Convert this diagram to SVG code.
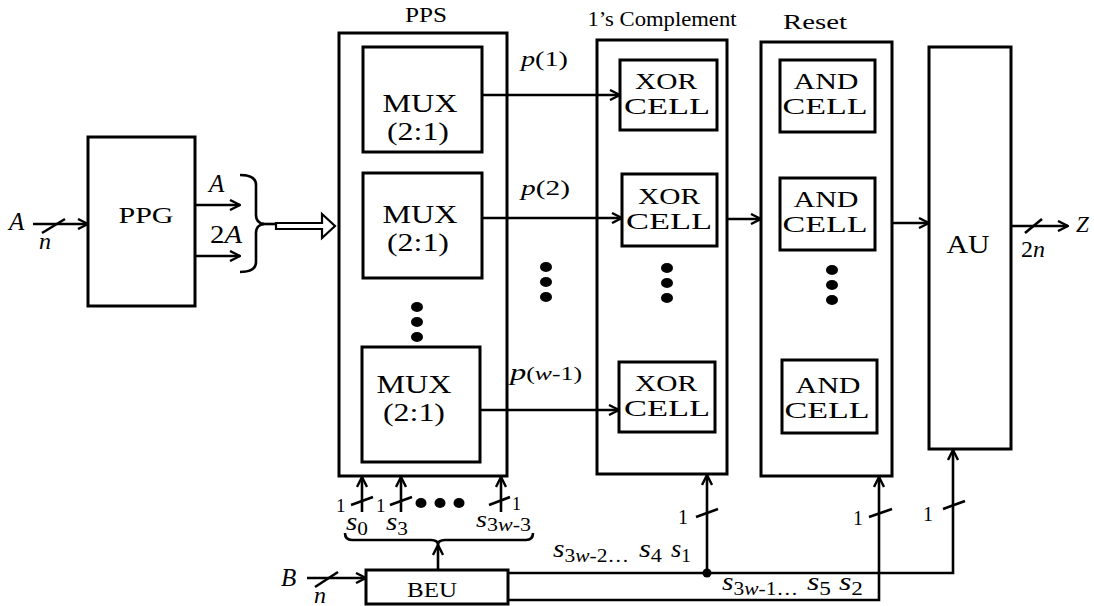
<svg xmlns="http://www.w3.org/2000/svg" width="1094" height="606" viewBox="0 0 1094 606">
<defs>
<style>
.box{fill:none;stroke:#000;stroke-width:3}
.ln{fill:none;stroke:#000;stroke-width:2.6}
.ar{fill:none;stroke:#000;stroke-width:2.6;marker-end:url(#arr)}
.t{font-family:"Liberation Serif","Times New Roman",serif;fill:#000}
.i{font-style:italic}
</style>
<marker id="arr" viewBox="0 0 12 12" refX="11" refY="6" markerWidth="12" markerHeight="12" markerUnits="userSpaceOnUse" orient="auto">
<path d="M1,1 L11,6 L1,11" fill="none" stroke="#000" stroke-width="2.4"/>
</marker>
</defs>
<rect width="1094" height="606" fill="#fff"/>

<g id="headers">
<text class="t" x="426" y="22" font-size="21" text-anchor="middle" textLength="42" lengthAdjust="spacingAndGlyphs">PPS</text>
<text class="t" x="662" y="26" font-size="21" text-anchor="middle" textLength="149" lengthAdjust="spacingAndGlyphs">1’s Complement</text>
<text class="t" x="815" y="29" font-size="20" text-anchor="middle" textLength="64" lengthAdjust="spacingAndGlyphs">Reset</text>
</g>

<g id="PPG">
<rect class="box" x="88" y="137" width="107" height="169"/>
<text class="t" x="146" y="223" font-size="24" text-anchor="middle" textLength="55" lengthAdjust="spacingAndGlyphs">PPG</text>
</g>

<g id="PPS">
<rect class="box" x="339" y="33" width="168" height="443"/>
<ellipse cx="417" cy="307" rx="6" ry="5"/>
<ellipse cx="417" cy="322" rx="6" ry="5"/>
<ellipse cx="417" cy="337" rx="6" ry="5"/>
</g>
<g id="MUX1">
<rect class="box" x="363" y="47" width="119" height="105"/>
<text class="t" x="420" y="112" font-size="25" text-anchor="middle" textLength="75" lengthAdjust="spacingAndGlyphs">MUX</text>
<text class="t" x="418" y="140" font-size="25" text-anchor="middle" textLength="62" lengthAdjust="spacingAndGlyphs">(2:1)</text>
</g>
<g id="MUX2">
<rect class="box" x="363" y="173" width="119" height="105"/>
<text class="t" x="420" y="223" font-size="25" text-anchor="middle" textLength="75" lengthAdjust="spacingAndGlyphs">MUX</text>
<text class="t" x="418" y="251" font-size="25" text-anchor="middle" textLength="62" lengthAdjust="spacingAndGlyphs">(2:1)</text>
</g>
<g id="MUX3">
<rect class="box" x="362" y="347" width="118" height="115"/>
<text class="t" x="414" y="393" font-size="25" text-anchor="middle" textLength="75" lengthAdjust="spacingAndGlyphs">MUX</text>
<text class="t" x="414" y="421" font-size="25" text-anchor="middle" textLength="62" lengthAdjust="spacingAndGlyphs">(2:1)</text>
</g>

<g id="OnesComplement">
<rect class="box" x="597" y="40" width="130" height="434"/>
<ellipse cx="667" cy="268" rx="6" ry="5"/>
<ellipse cx="667" cy="283" rx="6" ry="5"/>
<ellipse cx="667" cy="298" rx="6" ry="5"/>
</g>
<g id="XOR1">
<rect class="box" x="620" y="60" width="97" height="70"/>
<text class="t" x="666" y="89" font-size="23" text-anchor="middle" textLength="62" lengthAdjust="spacingAndGlyphs">XOR</text>
<text class="t" x="667" y="114" font-size="23" text-anchor="middle" textLength="86" lengthAdjust="spacingAndGlyphs">CELL</text>
</g>
<g id="XOR2">
<rect class="box" x="622" y="174" width="95" height="72"/>
<text class="t" x="669" y="204" font-size="23" text-anchor="middle" textLength="62" lengthAdjust="spacingAndGlyphs">XOR</text>
<text class="t" x="669" y="229" font-size="23" text-anchor="middle" textLength="86" lengthAdjust="spacingAndGlyphs">CELL</text>
</g>
<g id="XOR3">
<rect class="box" x="619" y="362" width="96" height="70"/>
<text class="t" x="666" y="391" font-size="23" text-anchor="middle" textLength="62" lengthAdjust="spacingAndGlyphs">XOR</text>
<text class="t" x="667" y="416" font-size="23" text-anchor="middle" textLength="86" lengthAdjust="spacingAndGlyphs">CELL</text>
</g>

<g id="Reset">
<rect class="box" x="761" y="42" width="131" height="434"/>
<ellipse cx="832" cy="270" rx="6" ry="5"/>
<ellipse cx="832" cy="285" rx="6" ry="5"/>
<ellipse cx="832" cy="300" rx="6" ry="5"/>
</g>
<g id="AND1">
<rect class="box" x="780" y="60" width="95" height="72"/>
<text class="t" x="826" y="89" font-size="23" text-anchor="middle" textLength="65" lengthAdjust="spacingAndGlyphs">AND</text>
<text class="t" x="825" y="114" font-size="23" text-anchor="middle" textLength="85" lengthAdjust="spacingAndGlyphs">CELL</text>
</g>
<g id="AND2">
<rect class="box" x="780" y="178" width="95" height="72"/>
<text class="t" x="826" y="207" font-size="23" text-anchor="middle" textLength="65" lengthAdjust="spacingAndGlyphs">AND</text>
<text class="t" x="825" y="232" font-size="23" text-anchor="middle" textLength="85" lengthAdjust="spacingAndGlyphs">CELL</text>
</g>
<g id="AND3">
<rect class="box" x="782" y="360" width="95" height="73"/>
<text class="t" x="828" y="393" font-size="23" text-anchor="middle" textLength="65" lengthAdjust="spacingAndGlyphs">AND</text>
<text class="t" x="827" y="418" font-size="23" text-anchor="middle" textLength="85" lengthAdjust="spacingAndGlyphs">CELL</text>
</g>

<g id="AU">
<rect class="box" x="929" y="47" width="82" height="402"/>
<text class="t" x="968" y="253" font-size="25" text-anchor="middle" textLength="43" lengthAdjust="spacingAndGlyphs">AU</text>
</g>

<g id="BEU">
<rect class="box" x="366" y="570" width="142" height="34"/>
<text class="t" x="432" y="597" font-size="20" text-anchor="middle" textLength="50" lengthAdjust="spacingAndGlyphs">BEU</text>
</g>

<g id="connectors">
<line class="ar" x1="33" y1="224" x2="88" y2="224"/>
<line class="ln" x1="42" y1="233" x2="65" y2="219"/>
<line class="ar" x1="195" y1="205" x2="240" y2="205"/>
<line class="ar" x1="195" y1="256" x2="240" y2="256"/>
<path class="ln" d="M240,175 Q256,175 256,185 L256,215 Q256,223 264,224 Q256,225 256,233 L256,262 Q256,272 240,272" stroke-width="2.2"/>
<line class="ln" x1="262" y1="224" x2="276" y2="224" stroke-width="2.2"/>
<path d="M276,223 L322,223 L322,214 L335,226 L322,238 L322,229 L276,229 Z" fill="#fff" stroke="#000" stroke-width="2.2"/>
<line class="ar" x1="482" y1="95" x2="620" y2="95"/>
<line class="ar" x1="482" y1="218" x2="622" y2="218"/>
<line class="ar" x1="480" y1="410" x2="619" y2="410"/>
<ellipse cx="546" cy="267" rx="6" ry="5"/>
<ellipse cx="546" cy="282" rx="6" ry="5"/>
<ellipse cx="546" cy="297" rx="6" ry="5"/>
<line class="ar" x1="727" y1="219" x2="761" y2="219"/>
<line class="ar" x1="892" y1="223" x2="929" y2="223"/>
<line class="ar" x1="1011" y1="226" x2="1068" y2="226"/>
<line class="ln" x1="1025" y1="233" x2="1042" y2="219"/>
<line class="ar" x1="362" y1="512" x2="362" y2="477"/>
<line class="ar" x1="401" y1="512" x2="401" y2="477"/>
<line class="ar" x1="501" y1="512" x2="501" y2="477"/>
<line class="ln" x1="351" y1="505" x2="373" y2="497"/>
<line class="ln" x1="390" y1="505" x2="412" y2="497"/>
<line class="ln" x1="489" y1="505" x2="510" y2="497"/>
<ellipse cx="421" cy="503" rx="5.5" ry="5"/>
<ellipse cx="440" cy="503" rx="5.5" ry="5"/>
<ellipse cx="459" cy="503" rx="5.5" ry="5"/>
<path class="ln" d="M345,533 Q345,540 352,540 L431,540 Q438,540 438,545 Q438,540 445,540 L526,540 Q533,540 533,533" stroke-width="2.2"/>
<line class="ar" x1="438" y1="570" x2="438" y2="545"/>
<line class="ar" x1="307" y1="578" x2="366" y2="578"/>
<line class="ln" x1="315" y1="587" x2="338" y2="572"/>
<polyline class="ar" points="508,573 953,573 953,450"/>
<polyline class="ar" points="508,600 879,600 879,477"/>
<line class="ar" x1="707" y1="573" x2="707" y2="475"/>
<circle cx="707" cy="573" r="4.5"/>
<line class="ln" x1="696" y1="517" x2="718" y2="509"/>
<line class="ln" x1="869" y1="517" x2="892" y2="509"/>
<line class="ln" x1="943" y1="509" x2="965" y2="501"/>
</g>

<g id="labels">
<text class="t i" x="9" y="230" font-size="25">A</text>
<text class="t i" x="39" y="249" font-size="24">n</text>
<text class="t i" x="209" y="192" font-size="25">A</text>
<text class="t" x="210" y="243" font-size="25" textLength="32" lengthAdjust="spacingAndGlyphs">2<tspan class="i">A</tspan></text>
<text class="t" x="521" y="66" font-size="22" textLength="47" lengthAdjust="spacingAndGlyphs"><tspan class="i">p</tspan>(1)</text>
<text class="t" x="521" y="195" font-size="22" textLength="49" lengthAdjust="spacingAndGlyphs"><tspan class="i">p</tspan>(2)</text>
<text class="t" x="510" y="380" font-size="24" textLength="72" lengthAdjust="spacingAndGlyphs"><tspan class="i">p</tspan><tspan font-size="19">(<tspan class="i">w</tspan>-1)</tspan></text>
<text class="t i" x="1076" y="232" font-size="23">Z</text>
<text class="t" x="1021" y="257" font-size="24">2<tspan class="i">n</tspan></text>
<text class="t" x="336" y="512" font-size="19">1</text>
<text class="t" x="376" y="512" font-size="19">1</text>
<text class="t" x="512" y="510" font-size="18">1</text>
<text class="t" x="346" y="530" font-size="26" textLength="22" lengthAdjust="spacingAndGlyphs"><tspan class="i">s</tspan><tspan font-size="19" dy="5">0</tspan></text>
<text class="t" x="386" y="530" font-size="26" textLength="22" lengthAdjust="spacingAndGlyphs"><tspan class="i">s</tspan><tspan font-size="19" dy="5">3</tspan></text>
<text class="t" x="476" y="527" font-size="23" textLength="55" lengthAdjust="spacingAndGlyphs"><tspan class="i">s</tspan><tspan font-size="18" dy="4">3<tspan class="i">w</tspan>-3</tspan></text>
<text class="t i" x="281" y="586" font-size="25">B</text>
<text class="t i" x="314" y="603" font-size="24">n</text>
<text class="t" x="553" y="557" font-size="26" textLength="76" lengthAdjust="spacingAndGlyphs"><tspan class="i">s</tspan><tspan font-size="19" dy="5">3<tspan class="i">w</tspan>-2…</tspan></text>
<text class="t" x="639" y="557" font-size="26" textLength="23" lengthAdjust="spacingAndGlyphs"><tspan class="i">s</tspan><tspan font-size="19" dy="5">4</tspan></text>
<text class="t" x="671" y="557" font-size="26" textLength="20" lengthAdjust="spacingAndGlyphs"><tspan class="i">s</tspan><tspan font-size="19" dy="5">1</tspan></text>
<text class="t" x="722" y="590" font-size="26" textLength="76" lengthAdjust="spacingAndGlyphs"><tspan class="i">s</tspan><tspan font-size="19" dy="5">3<tspan class="i">w</tspan>-1…</tspan></text>
<text class="t" x="807" y="590" font-size="26" textLength="24" lengthAdjust="spacingAndGlyphs"><tspan class="i">s</tspan><tspan font-size="19" dy="5">5</tspan></text>
<text class="t" x="839" y="590" font-size="26" textLength="24" lengthAdjust="spacingAndGlyphs"><tspan class="i">s</tspan><tspan font-size="19" dy="5">2</tspan></text>
<text class="t" x="678" y="524" font-size="20">1</text>
<text class="t" x="853" y="525" font-size="20">1</text>
<text class="t" x="923" y="521" font-size="20">1</text>
</g>
</svg>
